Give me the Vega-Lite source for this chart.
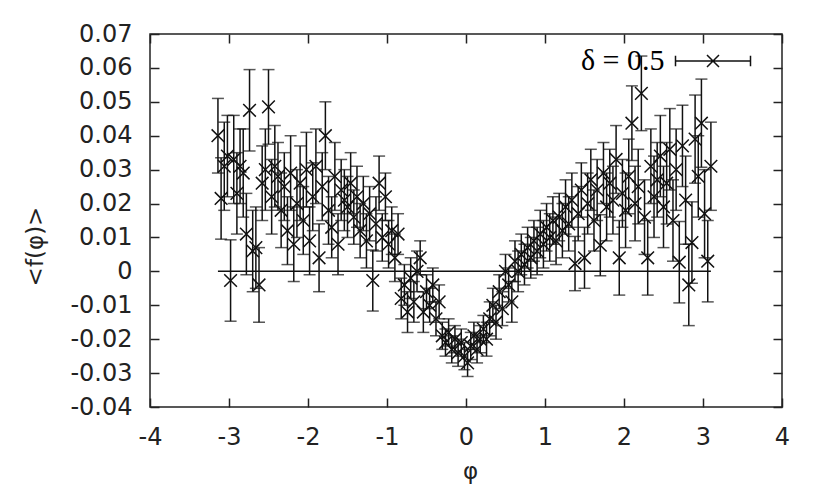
{
  "$schema": "https://vega.github.io/schema/vega-lite/v6.json",
  "autosize": {"type": "none"},
  "padding": {"left": 150, "top": 34, "right": 48, "bottom": 91},
  "width": 632,
  "height": 373,
  "background": "white",
  "config": {
    "view": {"stroke": "#222", "strokeWidth": 1.5},
    "axis": {
      "domain": false, "grid": false, "labelFlush": false,
      "tickColor": "#222", "tickWidth": 1.5, "tickSize": -9,
      "labelFont": "DejaVu Sans", "labelFontSize": 24, "labelColor": "#222",
      "titleFont": "DejaVu Sans", "titleFontSize": 23, "titleColor": "#222", "titleFontWeight": "normal"
    }
  },
  "data": {"values": [
    {"x": -3.14, "y": 0.040, "e": 0.011},
    {"x": -3.10, "y": 0.0215, "e": 0.012},
    {"x": -3.06, "y": 0.031, "e": 0.013},
    {"x": -3.02, "y": 0.034, "e": 0.012},
    {"x": -2.98, "y": -0.0027, "e": 0.012},
    {"x": -2.94, "y": 0.033, "e": 0.013},
    {"x": -2.90, "y": 0.023, "e": 0.012},
    {"x": -2.86, "y": 0.031, "e": 0.011},
    {"x": -2.82, "y": 0.029, "e": 0.013},
    {"x": -2.78, "y": 0.011, "e": 0.012},
    {"x": -2.74, "y": 0.0475, "e": 0.012},
    {"x": -2.70, "y": 0.006, "e": 0.012},
    {"x": -2.66, "y": 0.007, "e": 0.012},
    {"x": -2.62, "y": -0.004, "e": 0.011},
    {"x": -2.58, "y": 0.026, "e": 0.011},
    {"x": -2.54, "y": 0.030, "e": 0.012},
    {"x": -2.50, "y": 0.0485, "e": 0.011},
    {"x": -2.46, "y": 0.022, "e": 0.011},
    {"x": -2.42, "y": 0.031, "e": 0.012},
    {"x": -2.38, "y": 0.028, "e": 0.010},
    {"x": -2.34, "y": 0.018, "e": 0.011},
    {"x": -2.30, "y": 0.025, "e": 0.010},
    {"x": -2.26, "y": 0.012, "e": 0.010},
    {"x": -2.22, "y": 0.029, "e": 0.011},
    {"x": -2.18, "y": 0.008, "e": 0.011},
    {"x": -2.14, "y": 0.020, "e": 0.010},
    {"x": -2.10, "y": 0.026, "e": 0.011},
    {"x": -2.06, "y": 0.015, "e": 0.010},
    {"x": -2.02, "y": 0.030, "e": 0.011},
    {"x": -1.98, "y": 0.009, "e": 0.010},
    {"x": -1.94, "y": 0.022, "e": 0.010},
    {"x": -1.90, "y": 0.031, "e": 0.011},
    {"x": -1.86, "y": 0.004, "e": 0.010},
    {"x": -1.82, "y": 0.025, "e": 0.010},
    {"x": -1.78, "y": 0.040, "e": 0.010},
    {"x": -1.74, "y": 0.018, "e": 0.010},
    {"x": -1.70, "y": 0.013, "e": 0.009},
    {"x": -1.66, "y": 0.028, "e": 0.010},
    {"x": -1.62, "y": 0.008, "e": 0.009},
    {"x": -1.58, "y": 0.024, "e": 0.009},
    {"x": -1.54, "y": 0.021, "e": 0.009},
    {"x": -1.50, "y": 0.019, "e": 0.009},
    {"x": -1.46, "y": 0.026, "e": 0.009},
    {"x": -1.42, "y": 0.016, "e": 0.008},
    {"x": -1.38, "y": 0.022, "e": 0.009},
    {"x": -1.34, "y": 0.012, "e": 0.008},
    {"x": -1.30, "y": 0.020, "e": 0.008},
    {"x": -1.26, "y": 0.009, "e": 0.008},
    {"x": -1.22, "y": 0.017, "e": 0.008},
    {"x": -1.18, "y": -0.0027, "e": 0.009},
    {"x": -1.14, "y": 0.014, "e": 0.008},
    {"x": -1.10, "y": 0.026, "e": 0.008},
    {"x": -1.06, "y": 0.010, "e": 0.007},
    {"x": -1.02, "y": 0.022, "e": 0.007},
    {"x": -0.98, "y": 0.008, "e": 0.007},
    {"x": -0.94, "y": 0.012, "e": 0.007},
    {"x": -0.90, "y": 0.004, "e": 0.007},
    {"x": -0.86, "y": 0.011, "e": 0.006},
    {"x": -0.82, "y": -0.008, "e": 0.006},
    {"x": -0.78, "y": -0.004, "e": 0.006},
    {"x": -0.74, "y": -0.012, "e": 0.006},
    {"x": -0.70, "y": -0.002, "e": 0.006},
    {"x": -0.66, "y": -0.009, "e": 0.006},
    {"x": -0.62, "y": 0.000, "e": 0.006},
    {"x": -0.58, "y": 0.004, "e": 0.005},
    {"x": -0.54, "y": -0.012, "e": 0.006},
    {"x": -0.50, "y": -0.006, "e": 0.005},
    {"x": -0.46, "y": -0.010, "e": 0.005},
    {"x": -0.42, "y": -0.004, "e": 0.005},
    {"x": -0.38, "y": -0.014, "e": 0.005},
    {"x": -0.34, "y": -0.009, "e": 0.005},
    {"x": -0.30, "y": -0.019, "e": 0.004},
    {"x": -0.26, "y": -0.021, "e": 0.004},
    {"x": -0.22, "y": -0.018, "e": 0.004},
    {"x": -0.18, "y": -0.023, "e": 0.004},
    {"x": -0.14, "y": -0.020, "e": 0.004},
    {"x": -0.10, "y": -0.024, "e": 0.004},
    {"x": -0.06, "y": -0.021, "e": 0.004},
    {"x": -0.02, "y": -0.025, "e": 0.004},
    {"x": 0.02, "y": -0.027, "e": 0.004},
    {"x": 0.06, "y": -0.022, "e": 0.004},
    {"x": 0.10, "y": -0.019, "e": 0.004},
    {"x": 0.14, "y": -0.023, "e": 0.004},
    {"x": 0.18, "y": -0.020, "e": 0.004},
    {"x": 0.22, "y": -0.017, "e": 0.004},
    {"x": 0.26, "y": -0.020, "e": 0.005},
    {"x": 0.30, "y": -0.014, "e": 0.005},
    {"x": 0.34, "y": -0.010, "e": 0.005},
    {"x": 0.38, "y": -0.015, "e": 0.005},
    {"x": 0.42, "y": -0.006, "e": 0.005},
    {"x": 0.46, "y": -0.011, "e": 0.005},
    {"x": 0.50, "y": 0.000, "e": 0.005},
    {"x": 0.54, "y": -0.004, "e": 0.005},
    {"x": 0.58, "y": -0.009, "e": 0.006},
    {"x": 0.62, "y": 0.003, "e": 0.006},
    {"x": 0.66, "y": 0.000, "e": 0.006},
    {"x": 0.70, "y": 0.005, "e": 0.006},
    {"x": 0.74, "y": 0.002, "e": 0.006},
    {"x": 0.78, "y": 0.007, "e": 0.006},
    {"x": 0.82, "y": 0.004, "e": 0.006},
    {"x": 0.86, "y": 0.009, "e": 0.006},
    {"x": 0.90, "y": 0.006, "e": 0.007},
    {"x": 0.94, "y": 0.011, "e": 0.007},
    {"x": 0.98, "y": 0.008, "e": 0.007},
    {"x": 1.02, "y": 0.013, "e": 0.007},
    {"x": 1.06, "y": 0.010, "e": 0.007},
    {"x": 1.10, "y": 0.015, "e": 0.007},
    {"x": 1.14, "y": 0.009, "e": 0.007},
    {"x": 1.18, "y": 0.016, "e": 0.007},
    {"x": 1.22, "y": 0.012, "e": 0.008},
    {"x": 1.26, "y": 0.019, "e": 0.008},
    {"x": 1.30, "y": 0.014, "e": 0.008},
    {"x": 1.34, "y": 0.021, "e": 0.008},
    {"x": 1.38, "y": 0.0023, "e": 0.008},
    {"x": 1.42, "y": 0.017, "e": 0.008},
    {"x": 1.46, "y": 0.024, "e": 0.008},
    {"x": 1.50, "y": 0.004, "e": 0.009},
    {"x": 1.54, "y": 0.020, "e": 0.009},
    {"x": 1.58, "y": 0.027, "e": 0.009},
    {"x": 1.62, "y": 0.015, "e": 0.009},
    {"x": 1.66, "y": 0.024, "e": 0.009},
    {"x": 1.70, "y": 0.0077, "e": 0.009},
    {"x": 1.74, "y": 0.029, "e": 0.009},
    {"x": 1.78, "y": 0.019, "e": 0.010},
    {"x": 1.82, "y": 0.026, "e": 0.010},
    {"x": 1.86, "y": 0.021, "e": 0.010},
    {"x": 1.90, "y": 0.033, "e": 0.010},
    {"x": 1.94, "y": 0.004, "e": 0.011},
    {"x": 1.98, "y": 0.023, "e": 0.010},
    {"x": 2.02, "y": 0.018, "e": 0.011},
    {"x": 2.06, "y": 0.028, "e": 0.011},
    {"x": 2.10, "y": 0.0437, "e": 0.011},
    {"x": 2.14, "y": 0.020, "e": 0.011},
    {"x": 2.18, "y": 0.025, "e": 0.011},
    {"x": 2.22, "y": 0.0525, "e": 0.011},
    {"x": 2.26, "y": 0.016, "e": 0.011},
    {"x": 2.30, "y": 0.004, "e": 0.011},
    {"x": 2.34, "y": 0.031, "e": 0.011},
    {"x": 2.38, "y": 0.022, "e": 0.012},
    {"x": 2.42, "y": 0.027, "e": 0.011},
    {"x": 2.46, "y": 0.034, "e": 0.012},
    {"x": 2.50, "y": 0.019, "e": 0.012},
    {"x": 2.54, "y": 0.026, "e": 0.012},
    {"x": 2.58, "y": 0.036, "e": 0.012},
    {"x": 2.62, "y": 0.015, "e": 0.012},
    {"x": 2.66, "y": 0.030, "e": 0.012},
    {"x": 2.70, "y": 0.0027, "e": 0.012},
    {"x": 2.74, "y": 0.037, "e": 0.012},
    {"x": 2.78, "y": 0.021, "e": 0.013},
    {"x": 2.82, "y": -0.004, "e": 0.012},
    {"x": 2.86, "y": 0.0085, "e": 0.012},
    {"x": 2.90, "y": 0.039, "e": 0.013},
    {"x": 2.94, "y": 0.028, "e": 0.012},
    {"x": 2.98, "y": 0.0437, "e": 0.013},
    {"x": 3.02, "y": 0.017, "e": 0.013},
    {"x": 3.06, "y": 0.003, "e": 0.012},
    {"x": 3.10, "y": 0.031, "e": 0.013}
  ]},
  "resolve": {"axis": {"x": "independent", "y": "independent"}},
  "layer": [
    {
      "mark": {"type": "errorbar", "ticks": {"size": 12, "color": "#111"}, "rule": {"color": "#111"}, "thickness": 1.5},
      "encoding": {
        "x": {"field": "x", "type": "quantitative",
              "scale": {"domain": [-4, 4], "nice": false, "zero": false},
              "axis": {"orient": "bottom", "title": "φ", "values": [-4, -3, -2, -1, 0, 1, 2, 3, 4],
                       "labelPadding": 27, "labelFlush": false, "labelExpr": "replace(format(datum.value, 'd'), '\u2212', '-')",
                       "titleAnchor": "middle", "titleBaseline": "middle", "titleX": 320, "titleY": 64}},
        "y": {"field": "y", "type": "quantitative",
              "scale": {"domain": [-0.04, 0.07], "nice": false, "zero": false},
              "axis": {"orient": "left", "title": "<f(φ)>",
                       "values": [-0.04, -0.03, -0.02, -0.01, 0, 0.01, 0.02, 0.03, 0.04, 0.05, 0.06, 0.07],
                       "labelPadding": 27, "labelFlush": false,
                       "labelExpr": "datum.value == 0 ? '0' : replace(format(datum.value, '.2f'), '\u2212', '-')",
                       "titleAngle": -90, "titleBaseline": "middle", "titleAlign": "center", "titleX": -115, "titleY": 212}},
        "yError": {"field": "e"}
      }
    },
    {
      "mark": {"type": "point", "shape": "M-1,-1L1,1M-1,1L1,-1", "size": 160, "strokeWidth": 1.5, "filled": false, "opacity": 1},
      "encoding": {
        "x": {"field": "x", "type": "quantitative", "axis": null},
        "y": {"field": "y", "type": "quantitative", "axis": null},
        "color": {"datum": "δ = 0.5", "type": "nominal",
                  "scale": {"range": ["#111"]},
                  "legend": {"title": null, "orient": "none", "legendX": 524.5, "legendY": -11.5, "padding": 0,
                             "symbolType": "M-1,0H1M-1,-0.14V0.14M1,-0.14V0.14M-0.16,-0.16L0.16,0.16M-0.16,0.16L0.16,-0.16",
                             "symbolSize": 5625, "symbolStrokeWidth": 1.5, "symbolStrokeColor": "#111", "symbolFillColor": "transparent",
                             "labelFont": "Liberation Serif", "labelFontSize": 30, "labelColor": "#000",
                             "labelAlign": "right", "labelBaseline": "middle", "labelOffset": -87, "labelLimit": 300}}
      }
    },
    {
      "mark": {"type": "rule", "color": "#111", "strokeWidth": 1.5},
      "encoding": {
        "x": {"aggregate": "min", "field": "x", "type": "quantitative", "axis": null},
        "x2": {"aggregate": "max", "field": "x"},
        "y": {"datum": 0, "type": "quantitative", "axis": null}
      }
    },
    {
      "mark": {"type": "point", "opacity": 0},
      "encoding": {
        "x": {"field": "x", "type": "quantitative",
              "axis": {"orient": "top", "title": null, "labels": false, "values": [-4, -3, -2, -1, 0, 1, 2, 3, 4]}},
        "y": {"field": "y", "type": "quantitative",
              "axis": {"orient": "right", "title": null, "labels": false,
                       "values": [-0.04, -0.03, -0.02, -0.01, 0, 0.01, 0.02, 0.03, 0.04, 0.05, 0.06, 0.07]}}
      }
    }
  ]
}
